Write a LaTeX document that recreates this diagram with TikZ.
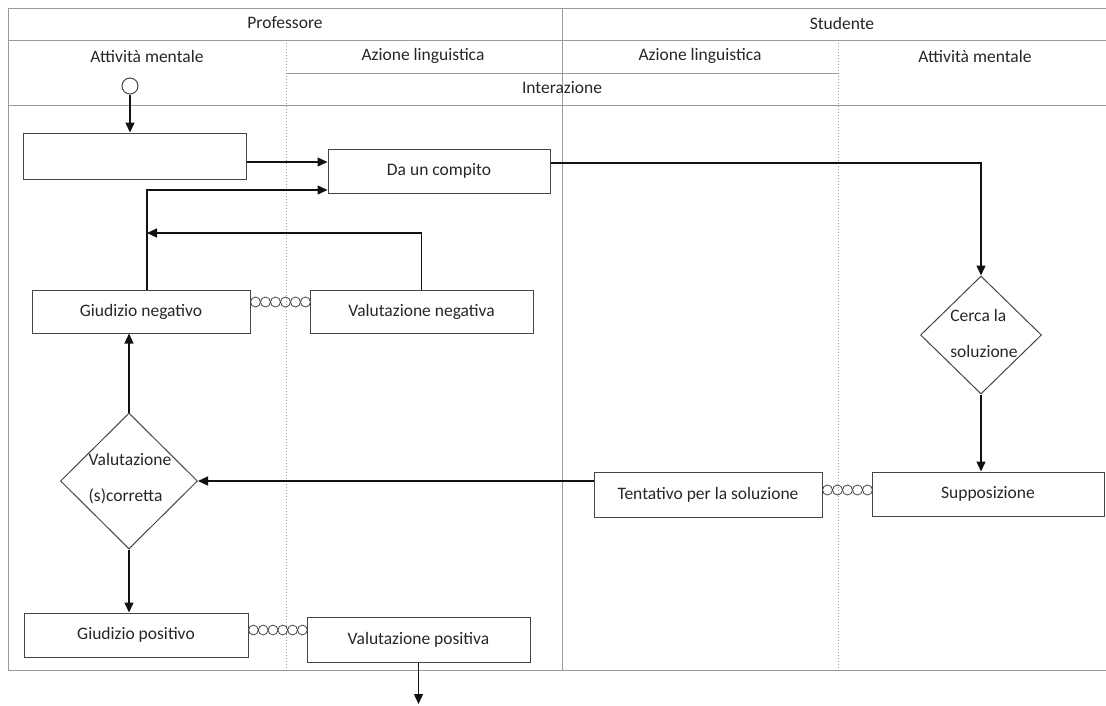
\documentclass[tikz,border=0pt]{standalone}
\usepackage{fontspec}
\setmainfont{Carlito}
\usetikzlibrary{arrows.meta,shapes.geometric,calc}
\definecolor{frame}{HTML}{9A9A9A}
\definecolor{boxline}{HTML}{454545}
\definecolor{txtc}{HTML}{262626}
\definecolor{arrc}{HTML}{111111}
\tikzset{
  fr/.style={draw=frame, line width=1pt},
  dot/.style={draw=frame, line width=1pt, dotted},
  hdr/.style={text=txtc, font=\fontsize{17.5}{21}\selectfont, inner sep=0pt},
  bx/.style={draw=boxline, line width=1pt, rectangle, inner sep=0pt, text=txtc,
             font=\fontsize{17.5}{21}\selectfont},
  dia/.style={draw=boxline, line width=1pt, diamond, inner sep=0pt, aspect=1},
  txt/.style={text=txtc, font=\fontsize{17.5}{21}\selectfont, inner sep=0pt, align=left},
  arr/.style={draw=arrc, line width=1.4pt, -{Triangle[length=10pt,width=9pt]}},
  link/.style={draw=boxline, line width=0.8pt},
}
\newcommand{\chainlinks}[4]{%
  \foreach \i in {1,...,#3}{\draw[link] ($(#1)+({(2*\i-1)*#4},0)$) circle[radius=#4];}%
}
\begin{document}
\begin{tikzpicture}[x=1pt,y=1pt]
\useasboundingbox (0,0) rectangle (1106,-705);
% frame
\draw[fr] (8,-8) -- (1106,-8);
\draw[fr] (8,-40) -- (1106,-40);
\draw[fr] (286,-73) -- (838,-73);
\draw[fr] (8,-105) -- (1106,-105);
\draw[fr] (8,-670) -- (1106,-670);
\draw[fr] (8,-8) -- (8,-670);
\draw[fr] (562,-8) -- (562,-670);
\draw[dot] (286,-40) -- (286,-670);
\draw[dot] (838,-40) -- (838,-670);
% headers
\node[hdr] (hprof) at (285,-23) {Professore};
\node[hdr] (hstud) at (842,-23) {Studente};
\node[hdr] (ham1) at (147,-56) {Attività mentale};
\node[hdr] (hal1) at (423,-56) {Azione linguistica};
\node[hdr] (hal2) at (700,-56) {Azione linguistica};
\node[hdr] (ham2) at (975,-56) {Attività mentale};
\node[hdr] (hint) at (562,-88) {Interazione};
% nodes
\node[draw=boxline, line width=1pt, circle, minimum size=16pt, inner sep=0pt, fill=white] (start) at (130,-86) {};
\node[bx, minimum width=223pt, minimum height=46pt] (b1) at (135,-156) {};
\node[bx, minimum width=222pt, minimum height=44pt] (dc) at (439,-171) {\raisebox{3pt}{Da un compito}};
\node[bx, minimum width=218pt, minimum height=43pt] (gn) at (141,-311.5) {\raisebox{3pt}{Giudizio negativo}};
\node[bx, minimum width=223pt, minimum height=43pt] (vn) at (421.5,-311.5) {\raisebox{3pt}{Valutazione negativa}};
\node[dia, minimum width=121pt, minimum height=118pt] (cs) at (981,-335) {};
\node[txt] (cst) at (984,-333) {Cerca la\\[15pt]soluzione};
\node[dia, minimum width=137pt, minimum height=136pt] (vs) at (129,-481) {};
\node[txt] (vst) at (130,-479) {Valutazione\\[15pt](s)corretta};
\node[bx, minimum width=228pt, minimum height=45pt] (tp) at (708,-494.5) {\raisebox{2pt}{Tentativo per la soluzione}};
\node[bx, minimum width=232pt, minimum height=44pt] (sp) at (988,-494) {\raisebox{2pt}{Supposizione}};
\node[bx, minimum width=224pt, minimum height=44pt] (gp) at (136,-635) {\raisebox{3pt}{Giudizio positivo}};
\node[bx, minimum width=223pt, minimum height=45pt] (vp) at (418.5,-639.5) {\raisebox{2pt}{Valutazione positiva}};
% helper coordinates
\coordinate (k1) at (147,-190);
\coordinate (k2) at (147,-233);
\coordinate (k3) at (0,-162);
\coordinate (k4) at (0,-163);
\coordinate (endp) at (418.5,-704);
% connectors
\draw[arr] (start.south) -- (start |- b1.north);
\draw[arr] (b1.east |- k3) -- (dc.west |- k3);
\draw[arr] (gn.north -| k1) |- (dc.west |- k1);
\draw[arr] (vn.north) |- (k2);
\draw[arr] (dc.east |- k4) -| (cs.north);
\draw[arr] (cs.south) -- (cs.south |- sp.north);
\draw[arr] (tp.west |- vs.east) -- (vs.east);
\draw[arr] (vs.north) -- (vs.north |- gn.south);
\draw[arr] (vs.south) -- (vs.south |- gp.north);
\draw[arr] (vp.south) -- (endp);
% chain links
\coordinate (c1) at (gn.east |- 0,-302);
\coordinate (c2) at (tp.east |- 0,-490);
\coordinate (c3) at (gp.east |- 0,-630);
\chainlinks{c1}{vn}{6}{5}
\chainlinks{c2}{sp}{5}{5}
\chainlinks{c3}{vp}{6}{4.9}
\end{tikzpicture}
\end{document}
